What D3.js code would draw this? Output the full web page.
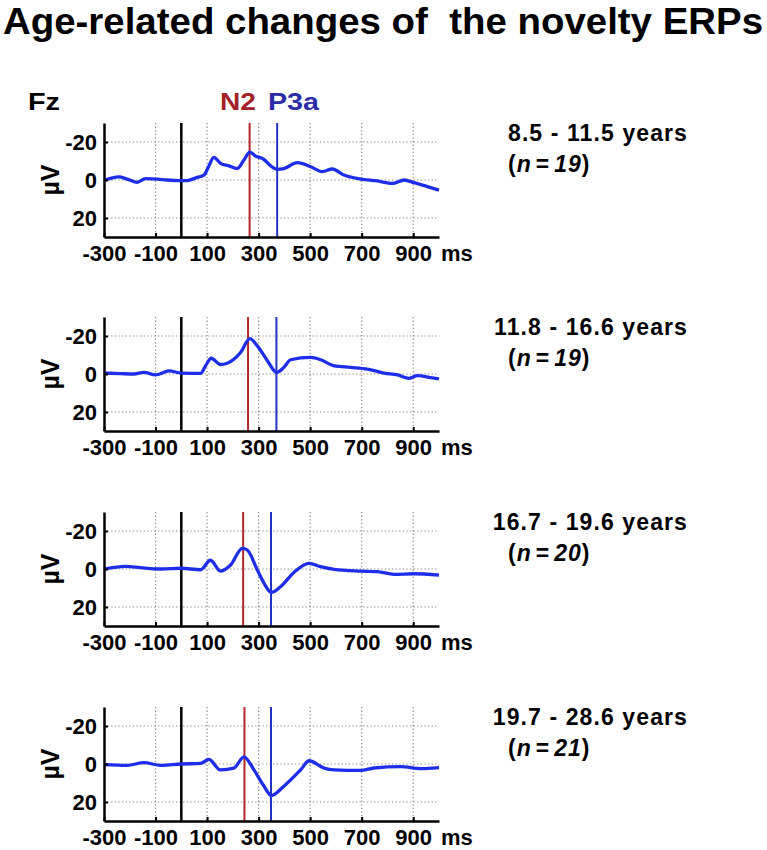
<!DOCTYPE html>
<html>
<head>
<meta charset="utf-8">
<script src="https://cdn.jsdelivr.net/npm/d3@7"></script>
<style>
  body { margin: 0; background: #fff; }
  svg text { font-family: "Liberation Sans", Arial, sans-serif; font-weight: bold; }
</style>
</head>
<body>
<div id="chart"></div>
<script>
// ---- data ----
let xTicks = [-300, -100, 100, 300, 500, 700, 900];
let yTicks = [-20, 0, 20];
let ageLabels = ["8.5 - 11.5 years", "11.8 - 16.6 years", "16.7 - 19.6 years", "19.7 - 28.6 years"];
let groupN = ["19", "19", "20", "21"];
let n2Latency = [265, 259, 240, 245];
let p3aLatency = [372, 369, 348, 348];

// [ms, µV] (negative up)
let wave1 = [[-300, 0.3], [-243, -1.6], [-210, -0.5], [-171, 1.2], [-139, -0.7], [-93, -0.5], [-55, 0],
  [0, 0.3], [23, 0.3], [62, -1.4], [88, -2.6], [107, -7.4], [126, -11.9], [152, -8.8], [185, -7.4],
  [217, -6], [243, -10.5], [266, -14.7], [288, -12.6], [320, -10.9], [347, -7.4], [372, -5.6],
  [398, -6], [450, -9.1], [502, -7], [547, -4.4], [586, -5.8], [631, -2.6], [696, -0.5], [761, 0.5],
  [819, 1.8], [865, 0], [903, 1.4], [955, 3.5], [1000, 5.3]];
let wave2 = [[-300, -0.5], [-236, -0.2], [-184, 0], [-145, -0.9], [-100, 0.5], [-48, -1.6], [0, -0.5],
  [75, -0.3], [94, -4.3], [116, -8.3], [152, -5], [204, -7.8], [230, -11.3], [266, -18.6], [295, -14.8],
  [334, -7], [370, -0.9], [398, -3.5], [424, -7.5], [502, -8.7], [541, -7.5], [593, -4.3], [657, -3.5],
  [722, -2.6], [787, -0.5], [839, 0.5], [884, 2.3], [916, 0.9], [968, 1.9], [1000, 2.6]];
let wave3 = [[-300, 0], [-216, -1.4], [-158, -0.7], [-80, 0], [0, -0.4], [75, 0.4], [113, -4.6],
  [152, 1.1], [191, -2.1], [237, -10.9], [256, -10], [295, 0.5], [321, 7.5], [349, 12.3], [385, 9.3],
  [437, 1.8], [496, -3], [541, -1.2], [593, 0.2], [696, 1.1], [761, 1.4], [826, 2.8], [903, 2.5], [1000, 3.2]];
let wave4 = [[-300, 0.3], [-210, 0.7], [-145, -0.7], [-80, 0.7], [0, 0], [75, -0.3], [107, -2.4],
  [152, 3.1], [204, 2.2], [243, -3.8], [282, 3.1], [321, 11.7], [349, 16.6], [398, 11.7], [463, 3.1],
  [496, -1.7], [554, 2.2], [593, 3.1], [696, 3.4], [748, 2.1], [852, 1.4], [929, 2.4], [1000, 1.9]];
let waves = [wave1, wave2, wave3, wave4];

// ---- layout ----
let width = 767, height = 850;
let left = 104, right = 439;
let panelTops = [123, 317, 512, 707];
let panelH = 114;

let svg = d3.select("#chart").append("svg")
    .attr("width", width)
    .attr("height", height);

svg.append("text")
    .attr("x", 3)
    .attr("y", 33.5)
    .attr("textLength", 760)
    .attr("lengthAdjust", "spacingAndGlyphs")
    .style("font-family", "'Liberation Sans Narrow', 'Liberation Sans', sans-serif")
    .style("font-size", "37px")
    .style("white-space", "pre")
    .text("Age-related changes of  the novelty ERPs");

// header above first panel
function header(txt, xPos, len, col) {
    svg.append("text").attr("x", xPos).attr("y", 110)
        .attr("textLength", len).attr("lengthAdjust", "spacingAndGlyphs")
        .style("font-size", "23px").attr("fill", col).text(txt);
}
header("Fz", 28, 32, "#000");
header("N2", 220, 36, "#a3222a");
header("P3a", 268, 51, "#2b2ca6");

let x = d3.scaleLinear().domain([-300, 1000]).range([left, right]);

waves.forEach(function (wave, i) {
    let top = panelTops[i];
    let y = d3.scaleLinear().domain([-30, 30]).range([top, top + panelH]);
    let g = svg.append("g");

    // dotted grid
    g.selectAll(".vg").data(xTicks.slice(1)).enter().append("line")
        .attr("x1", d => x(d)).attr("x2", d => x(d))
        .attr("y1", y(-30)).attr("y2", y(30))
        .attr("stroke", "#8a8a8a").attr("stroke-width", 1.2)
        .attr("stroke-dasharray", "1.3,2.3");
    g.selectAll(".hg").data(yTicks).enter().append("line")
        .attr("x1", x(-300)).attr("x2", x(1000))
        .attr("y1", d => y(d)).attr("y2", d => y(d))
        .attr("stroke", "#8a8a8a").attr("stroke-width", 1.2)
        .attr("stroke-dasharray", "1.3,2.3");

    // stimulus onset and peak latencies
    g.append("line").attr("x1", x(0)).attr("x2", x(0))
        .attr("y1", y(-30)).attr("y2", y(30))
        .attr("stroke", "#000").attr("stroke-width", 2.5);
    g.append("line").attr("x1", x(n2Latency[i])).attr("x2", x(n2Latency[i]))
        .attr("y1", y(-30)).attr("y2", y(30))
        .attr("stroke", "#b3262b").attr("stroke-width", 2);
    g.append("line").attr("x1", x(p3aLatency[i])).attr("x2", x(p3aLatency[i]))
        .attr("y1", y(-30)).attr("y2", y(30))
        .attr("stroke", "#2233c4").attr("stroke-width", 2);

    // waveform
    g.append("path")
        .datum(wave)
        .attr("d", d3.line().x(d => x(d[0])).y(d => y(d[1])).curve(d3.curveMonotoneX))
        .attr("fill", "none")
        .attr("stroke", "#1e2ee8")
        .attr("stroke-width", 3.3);

    // axes
    let xAxis = d3.axisBottom(x).tickValues(xTicks).tickSizeInner(-4).tickSizeOuter(0)
        .tickPadding(8).tickFormat(d => String(d));
    let ax = g.append("g").attr("transform", "translate(0," + (top + panelH) + ")").call(xAxis);
    let yAxis = d3.axisLeft(y).tickValues(yTicks).tickSizeInner(-4).tickSizeOuter(0)
        .tickPadding(7).tickFormat(d => String(d));
    let ay = g.append("g").attr("transform", "translate(" + left + ",0)").call(yAxis);
    [ax, ay].forEach(function (a) {
        a.select(".domain").attr("stroke", "#000").attr("stroke-width", 2.5);
        a.selectAll(".tick line").attr("stroke", "#000").attr("stroke-width", 2);
        a.selectAll("text").attr("fill", "#000")
            .style("font-family", "'Liberation Sans', Arial, sans-serif")
            .style("font-weight", "bold")
            .style("font-size", "22px");
    });

    g.append("text").attr("x", 441).attr("y", top + panelH + 24)
        .style("font-size", "22px").text("ms");

    g.append("text")
        .attr("transform", "translate(59," + y(0) + ") rotate(-90)")
        .attr("text-anchor", "middle")
        .style("font-size", "25px")
        .text("µV");

    // group labels
    g.append("text").attr("x", 688).attr("y", top + 18)
        .attr("text-anchor", "end")
        .style("letter-spacing", "1.1px")
        .style("font-size", "23px").text(ageLabels[i]);
    let nt = g.append("text").attr("x", 508).attr("y", top + 49)
        .style("letter-spacing", "1px")
        .style("font-size", "23px");
    nt.append("tspan").text("(");
    nt.append("tspan").style("font-style", "italic").text("n");
    nt.append("tspan").attr("dx", 4).text("=");
    nt.append("tspan").attr("dx", 4).style("font-style", "italic").text(groupN[i]);
    nt.append("tspan").text(")");
});
</script>
</body>
</html>
